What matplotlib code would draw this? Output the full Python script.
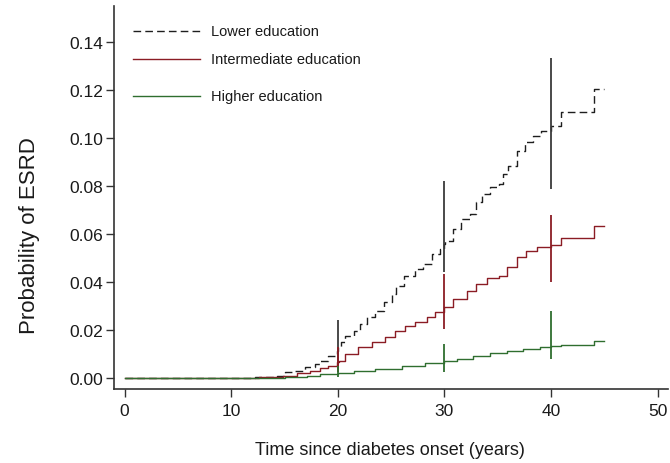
import numpy as np
import matplotlib.pyplot as plt

plt.rcParams['font.family'] = ['Liberation Sans', 'DejaVu Sans']

# --- data (cumulative probability of ESRD, step curves) ---
lower_t = [0, 12.2, 13.5, 14.3, 15.1, 16.0, 16.9, 17.9, 18.3, 19.1, 19.9, 20.0, 20.3,
           20.7, 21.5, 22.1, 22.7, 23.5, 24.3, 25.1, 25.5, 26.2, 27.25, 28.0, 28.8,
           29.6, 30.0, 30.1, 30.85, 31.6, 32.4, 33.0, 33.5, 34.3, 35.1, 35.5, 36.0,
           36.8, 37.6, 38.3, 39.1, 40.0, 40.9, 44.0, 45.0]
lower_p = [0, 0.0003, 0.0006, 0.001, 0.0024, 0.003, 0.0045, 0.0058, 0.0072, 0.0093,
           0.0114, 0.0128, 0.0149, 0.0176, 0.0197, 0.0225, 0.0253, 0.028, 0.0315,
           0.035, 0.0384, 0.0426, 0.0454, 0.0475, 0.0516, 0.0537, 0.0558, 0.0572,
           0.062, 0.0662, 0.0683, 0.0733, 0.0766, 0.0795, 0.0808, 0.085, 0.0884,
           0.0946, 0.0981, 0.1009, 0.103, 0.105, 0.1106, 0.1203, 0.1203]

inter_t = [0, 12.6, 14.0, 14.9, 16.2, 17.4, 18.3, 19.1, 19.9, 20.1, 20.7, 21.9, 23.2,
           24.4, 25.4, 26.3, 27.25, 28.35, 29.1, 30.0, 30.85, 32.1, 33.0, 34.0, 35.1,
           35.85, 36.8, 37.7, 38.7, 40.0, 40.9, 44.0, 45.0]
inter_p = [0, 0.0003, 0.0006, 0.001, 0.002, 0.003, 0.0042, 0.0051, 0.0065, 0.0072,
           0.01, 0.0128, 0.0149, 0.0169, 0.0197, 0.0218, 0.0232, 0.0253, 0.0274,
           0.0294, 0.0329, 0.0364, 0.0391, 0.0415, 0.0426, 0.0461, 0.0502, 0.053,
           0.0544, 0.0555, 0.0581, 0.0634, 0.0634]

higher_t = [0, 15.1, 17.1, 18.3, 20.0, 21.5, 23.5, 26.0, 28.2, 30.0, 31.2, 32.7, 34.3,
            35.85, 37.4, 39.0, 40.0, 40.9, 44.0, 45.0]
higher_p = [0, 0.0005, 0.001, 0.0015, 0.0021, 0.0028, 0.0037, 0.0051, 0.0061, 0.0069,
            0.0079, 0.0093, 0.0103, 0.0111, 0.0121, 0.013, 0.0134, 0.0139, 0.0155,
            0.0155]

# 95% CI bars at 20, 30, 40 years
ci_t = [20, 30, 40]
lower_lo = [0.005, 0.0442, 0.0787]
lower_hi = [0.024, 0.0821, 0.1332]
inter_lo = [0.0025, 0.0204, 0.0398]
inter_hi = [0.013, 0.0433, 0.0679]
higher_lo = [0.0004, 0.0026, 0.0079]
higher_hi = [0.005, 0.0142, 0.028]

labels = ["Lower education", "Intermediate education", "Higher education"]
x_ticks = [0, 10, 20, 30, 40, 50]
y_ticks = [0.00, 0.02, 0.04, 0.06, 0.08, 0.10, 0.12, 0.14]

BLACK = '#1e1e1e'
RED = '#8b1c24'
GREEN = '#2f6e2f'
AXC = '#333333'

fig = plt.figure(figsize=(6.7, 4.64), dpi=100)
ax = fig.add_axes([114 / 670, 1 - 390 / 464, 554 / 670, 383 / 464])

dash = (0, (5.5, 3))
ax.step(lower_t, lower_p, where='post', color=BLACK, lw=1.0, linestyle=dash)
ax.vlines(ci_t, lower_lo, lower_hi, color='#3a3a3a', lw=1.3)
ax.step(inter_t, inter_p, where='post', color=RED, lw=1.0)
ax.vlines(ci_t, inter_lo, inter_hi, color=RED, lw=1.3)
ax.step(higher_t, higher_p, where='post', color=GREEN, lw=1.0)
ax.vlines(ci_t, higher_lo, higher_hi, color=GREEN, lw=1.3)

ax.set_xlim(-0.985, 50.98)
ax.set_ylim(-0.00458, 0.1549)
ax.set_xticks(x_ticks)
ax.set_yticks(y_ticks)
ax.set_yticklabels([f"{v:.2f}" for v in y_ticks])

for s in ['top', 'right']:
    ax.spines[s].set_visible(False)
for s in ['left', 'bottom']:
    ax.spines[s].set_color(AXC)
    ax.spines[s].set_linewidth(1.2)
ax.tick_params(axis='both', colors=AXC, labelcolor='#1a1a1a', labelsize=12.5,
               length=6, width=1.0, direction='out')
ax.tick_params(axis='y', pad=2)
ax.tick_params(axis='x', pad=4)

ax.set_xlabel("Time since diabetes onset (years)", fontsize=13, color='#1a1a1a', va='center')
ax.xaxis.set_label_coords(0.498, -0.157)
ax.set_ylabel("Probability of ESRD", fontsize=16, color='#1a1a1a', va='center')
ax.yaxis.set_label_coords(-0.153, 0.402)

# hand-placed legend, no frame
leg_y = [0.935, 0.862, 0.765]
leg_styles = [dict(color=BLACK, linestyle=dash), dict(color=RED), dict(color=GREEN)]
for yy, lab, st in zip(leg_y, labels, leg_styles):
    ax.plot([0.035, 0.155], [yy, yy], transform=ax.transAxes, lw=1.0, clip_on=False, **st)
    ax.text(0.175, yy, lab, transform=ax.transAxes, fontsize=10.5, color='#1a1a1a',
            va='center', ha='left')

fig.savefig('out.png', dpi=100)
